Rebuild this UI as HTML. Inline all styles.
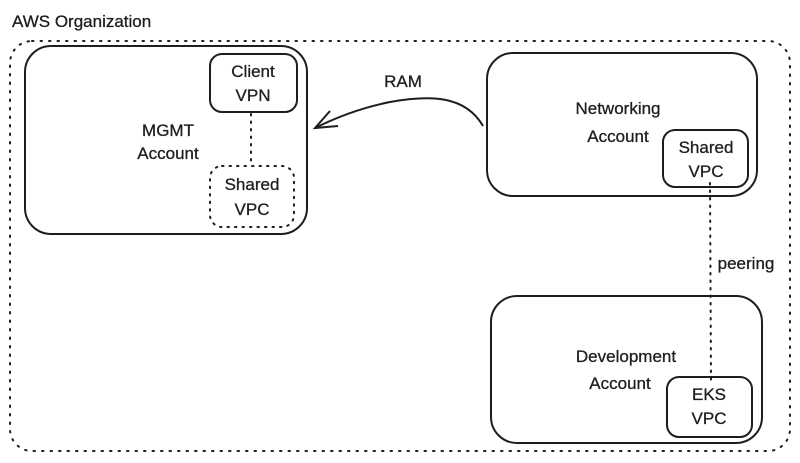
<!DOCTYPE html>
<html><head><style>
html,body{margin:0;padding:0;background:#fff;}
svg{display:block;}
text{font-family:"Comic Sans MS","Liberation Sans",sans-serif;font-size:17px;fill:#1e1e1e;stroke:#1e1e1e;stroke-width:0.3;}
</style></head><body>
<svg width="800" height="463" viewBox="0 0 800 463" xmlns="http://www.w3.org/2000/svg">
<g fill="none" stroke="#1e1e1e" stroke-width="2">
<rect x="10" y="41" width="780" height="410" rx="22" stroke-dasharray="1.5 7" stroke-linecap="round"/>
<rect x="25" y="46" width="282" height="188" rx="26"/>
<rect x="210" y="54" width="87" height="58" rx="12"/>
<rect x="210" y="166" width="84" height="61" rx="12" stroke-dasharray="1.5 6" stroke-linecap="round"/>
<line x1="251" y1="114" x2="251" y2="165" stroke-dasharray="1.5 6" stroke-linecap="round"/>
<rect x="487" y="53" width="270" height="143" rx="26"/>
<rect x="663" y="130" width="85" height="57" rx="12"/>
<line x1="710" y1="183" x2="711" y2="380" stroke-dasharray="1.5 6" stroke-linecap="round"/>
<rect x="491" y="296" width="271" height="147" rx="26"/>
<rect x="667" y="377" width="85" height="60" rx="12"/>
<path d="M483 126 C465 95 430 95 390 102 C360 108 335 118 315 128"/>
<path d="M330 111 L315 128 L338 126"/>
</g>
<text x="12" y="27">AWS Organization</text>
<text x="168" y="136" text-anchor="middle">MGMT</text>
<text x="168" y="159" text-anchor="middle">Account</text>
<text x="253" y="77" text-anchor="middle">Client</text>
<text x="253" y="101" text-anchor="middle">VPN</text>
<text x="252" y="190" text-anchor="middle">Shared</text>
<text x="252" y="215" text-anchor="middle">VPC</text>
<text x="403" y="87" text-anchor="middle">RAM</text>
<text x="618" y="114" text-anchor="middle">Networking</text>
<text x="618" y="142" text-anchor="middle">Account</text>
<text x="706" y="153" text-anchor="middle">Shared</text>
<text x="706" y="177" text-anchor="middle">VPC</text>
<text x="746" y="269" text-anchor="middle">peering</text>
<text x="626" y="362" text-anchor="middle">Development</text>
<text x="620" y="389" text-anchor="middle">Account</text>
<text x="709" y="400" text-anchor="middle">EKS</text>
<text x="709" y="424" text-anchor="middle">VPC</text>
</svg>
</body></html>
